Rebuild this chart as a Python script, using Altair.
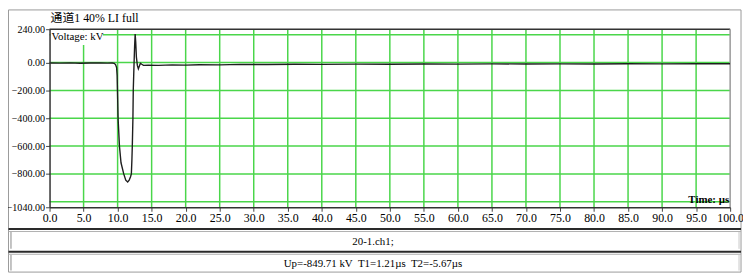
import altair as alt
import pandas as pd

# ---- data ----
t_us = [0, 1.5, 3, 4.5, 6, 7.5, 8.5, 9.2, 9.5, 9.7, 9.85, 9.93, 9.98, 10.07, 10.27,
        10.5, 10.9, 11.2, 11.48, 11.7, 11.9, 12.02, 12.1, 12.16, 12.25, 12.3, 12.42,
        12.5, 12.58, 12.66, 12.76, 12.9, 13.05, 13.2, 13.35, 13.55, 13.8, 14.5, 16,
        18, 20, 22, 25, 28, 32, 36, 40, 45, 50, 55, 60, 65, 70, 75, 80, 85, 90, 95, 100]
v_kv = [-3, -4, -2, -5, -3, -2, -4, -3, -6, -14, -35, -90, -200, -400, -600,
        -720, -800, -845, -858, -845, -820, -800, -700, -600, -400, -200, 0,
        120, 205, 150, 40, -20, -45, -25, -5, -12, -20, -18, -20,
        -16, -18, -15, -16, -13, -14, -12, -13, -11, -12, -10, -11, -9, -10, -9, -10, -8, -9, -8, -8]

y_tick_values = [240, 0, -200, -400, -600, -800, -1040]
y_grid_values = [200, 0, -200, -400, -600, -800, -1000]
x_tick_values = [0, 5, 10, 15, 20, 25, 30, 35, 40, 45, 50, 55, 60, 65, 70, 75, 80, 85, 90, 95, 100]
x_grid_values = [5, 10, 15, 20, 25, 30, 35, 40, 45, 50, 55, 60, 65, 70, 75, 80, 85, 90, 95]

title_text = "通道1 40% LI full"
y_unit_text = "Voltage: kV"
x_unit_text = "Time: µs"
file_text = "20-1.ch1;"
result_text = "Up=-849.71 kV\u00a0 T1=1.21µs\u00a0 T2=-5.67µs"

# ---- layout / style ----
W, H = 688, 180
FONT = "Liberation Serif"
CJK = "Liberation Serif, Noto Sans CJK SC"
GREEN = "#4ad64a"

xs = alt.Scale(domain=[0, 100], nice=False, zero=False)
ys = alt.Scale(domain=[-1040, 240], nice=False, zero=False)
one = pd.DataFrame({"k": [0]})

x_axis = alt.Axis(
    values=x_tick_values, format=".1f", title=None, grid=False, zindex=1,
    labelFont=FONT, labelFontSize=12, labelColor="black", labelFlush=False,
    tickColor="#444", domainColor="#333", domainWidth=1.5, tickSize=4, labelPadding=1)
y_axis = alt.Axis(
    values=y_tick_values, format=".2f", title=None, grid=False, zindex=1,
    labelFont=FONT, labelFontSize=10.2, labelColor="black", labelFlush=False,
    tickColor="#444", domainColor="#333", domainWidth=1.5, tickSize=4, labelPadding=1)


def rule(x, x2, y, y2, color, width=1.0):
    return alt.Chart(one).mark_rule(color=color, strokeWidth=width).encode(
        x=alt.value(x), x2=alt.value(x2), y=alt.value(y), y2=alt.value(y2))


def label(txt, x, y, size, align="left", baseline="alphabetic", font=FONT, weight="normal"):
    return alt.Chart(one).mark_text(
        text=txt, align=align, baseline=baseline, font=font, fontSize=size,
        fontWeight=weight, color="black").encode(x=alt.value(x), y=alt.value(y))


grid_y = alt.Chart(pd.DataFrame({"v": y_grid_values})).mark_rule(
    color=GREEN, strokeWidth=1.5).encode(y=alt.Y("v:Q", scale=ys, axis=y_axis))
grid_x = alt.Chart(pd.DataFrame({"t": x_grid_values})).mark_rule(
    color=GREEN, strokeWidth=1.5).encode(x=alt.X("t:Q", scale=xs, axis=x_axis))

line = alt.Chart(pd.DataFrame({"t": t_us, "v": v_kv})).mark_line(
    color="#1e1e1e", strokeWidth=1.4, clip=True).encode(
    x=alt.X("t:Q", scale=xs, axis=x_axis),
    y=alt.Y("v:Q", scale=ys, axis=y_axis),
)

# white patch behind the "Voltage: kV" label
vbox = alt.Chart(one).mark_rect(color="white").encode(
    x=alt.value(1), x2=alt.value(54), y=alt.value(1), y2=alt.value(16))

outer = alt.Chart(one).mark_rect(filled=False, stroke="#9a9a9a", strokeWidth=1).encode(
    x=alt.value(-41.5), x2=alt.value(699), y=alt.value(-19.5), y2=alt.value(245.5))

layers = [
    outer,
    grid_y, grid_x,
    vbox,
    rule(0, W, 0, 0, "#333", 1.5),            # top border of plot
    rule(W, W, 0, H, "#999", 1.5),            # right border of plot
    line,
    label(title_text, 1, -7.5, 12, font=CJK),
    label(y_unit_text, 2, 10.5, 11),
    label(x_unit_text, 687, 176, 11, align="right", weight="bold"),
    # bottom information boxes
    rule(-41.5, 699, 202, 202, "#2a2a2a", 2),
    rule(-41.5, 699, 204.5, 204.5, "#b0b0b0", 1),
    rule(-39, -39, 205, 222, "#b0b0b0", 1.5),
    rule(697, 697, 205, 222, "#c8c8c8", 1),
    label(file_text, 327, 215, 11, align="center", baseline="middle"),
    rule(-41.5, 699, 225, 225, "#2a2a2a", 2),
    rule(-41.5, 699, 227.5, 227.5, "#b0b0b0", 1),
    rule(-39, -39, 228, 244, "#b0b0b0", 1.5),
    rule(697, 697, 228, 244, "#c8c8c8", 1),
    label(result_text, 327, 237, 11, align="center", baseline="middle"),
]

chart = alt.layer(*layers).properties(
    width=W, height=H,
    autosize=alt.AutoSizeParams(type="none"),
    padding={"left": 42, "top": 20, "right": 13, "bottom": 67},
    background="white",
).configure_view(stroke=None)

chart.save("out.html", embed_options={"renderer": "svg", "actions": False})
